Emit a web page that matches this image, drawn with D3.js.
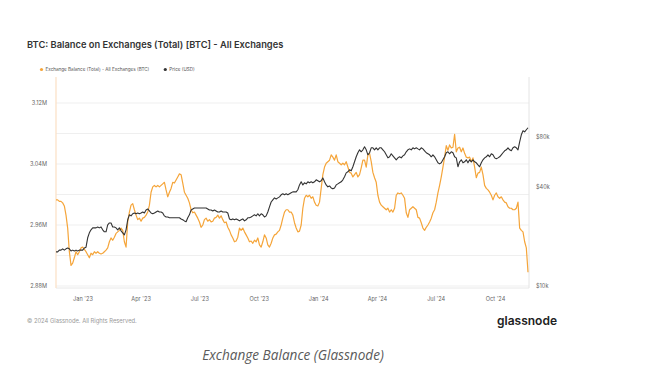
<!DOCTYPE html>
<html>
<head>
<meta charset="utf-8">
<script src="https://d3js.org/d3.v7.min.js"></script>
<style>
body { margin:0; background:#fff; }
text { font-family: Inter, "Noto Sans", sans-serif; }
</style>
</head>
<body>
<svg id="chart" width="660" height="385"></svg>
<script>

// data, ~2.6 day spacing from Nov 21 2022 to Nov 21 2024
const startDate = new Date(2022, 10, 21);
const endDate = new Date(2024, 10, 21);

// Exchange Balance (Total) - All Exchanges, millions of BTC
const balanceM = [2.993,
2.993,2.991,2.991,2.989,2.985,2.973,2.956,2.925,2.907,2.910,
2.917,2.925,2.921,2.925,2.930,2.931,2.928,2.925,2.921,2.917,
2.923,2.921,2.925,2.923,2.925,2.923,2.922,2.923,2.925,2.927,
2.930,2.938,2.943,2.940,2.944,2.949,2.951,2.953,2.956,2.953,
2.938,2.931,2.964,2.977,2.986,2.988,2.980,2.973,2.967,2.969,
2.965,2.969,2.970,2.973,2.977,2.986,3.003,3.010,3.012,3.010,
3.012,3.010,3.012,3.014,3.016,3.006,2.997,3.003,3.008,
3.016,3.015,3.019,3.023,3.027,3.026,3.015,3.003,2.999,2.995,
2.989,2.980,2.976,2.977,2.973,2.969,2.964,2.957,2.960,2.967,
2.969,2.965,2.967,2.964,2.965,2.969,2.970,2.973,2.969,2.972,
2.967,2.963,2.964,2.957,2.953,2.947,2.943,2.938,2.939,2.944,
2.956,2.953,2.956,2.951,2.947,2.943,2.938,2.939,2.936,2.940,
2.938,2.943,2.934,2.931,2.938,2.947,2.943,2.934,2.931,2.936,
2.943,2.947,2.948,2.951,2.953,2.960,2.969,2.977,2.980,2.980,
2.977,
2.977,2.973,2.963,2.956,2.951,2.952,2.960,2.982,2.995,2.999,
2.997,2.999,2.995,2.997,2.990,2.986,2.985,2.990,3.008,3.026,
3.036,3.041,3.043,3.045,3.052,3.049,3.045,3.052,3.043,3.041,
3.039,3.041,3.039,3.043,3.036,3.029,3.028,3.023,3.026,3.029,
3.023,3.026,3.035,3.045,3.045,3.036,3.052,3.054,3.043,3.029,
3.022,3.016,2.999,2.990,2.986,2.984,2.982,2.980,2.982,2.977,
2.980,2.977,2.982,2.999,3.002,3.001,3.002,2.999,2.995,2.976,
2.970,2.980,
2.982,2.984,2.982,2.980,2.970,2.969,2.963,2.956,2.953,2.957,
2.960,2.964,2.969,2.976,2.980,2.990,3.002,3.012,3.023,3.036,
3.049,3.064,3.058,3.065,3.061,3.062,3.079,3.056,3.061,3.062,
3.056,3.061,3.054,3.049,3.048,3.049,3.043,3.048,3.036,3.022,
3.028,3.029,3.036,3.026,3.012,3.008,3.006,3.003,2.999,2.993,
2.999,3.002,2.997,2.995,2.997,2.993,2.990,2.989,2.984,2.982,
2.982,2.980,2.980,2.982,2.990,2.956,2.953,2.951,2.938,2.930,
2.898];

// Price (USD), thousands
const priceK = [16.1,
16.1,16.5,16.5,16.8,16.5,16.8,17.0,16.8,16.3,16.5,
16.3,16.5,16.3,16.5,16.5,16.5,17.0,17.2,19.6,21.0,
21.9,22.5,22.5,22.5,22.8,22.5,22.8,21.9,21.3,21.3,
23.5,24.1,24.1,22.8,22.8,22.5,21.9,22.5,21.6,21.0,
20.4,21.9,25.2,27.0,26.6,27.4,27.7,27.4,27.7,27.4,
27.7,28.1,27.7,28.9,29.3,28.5,27.7,27.4,27.7,28.1,
28.5,28.1,28.1,27.7,26.6,26.2,26.2,25.9,25.9,
25.9,25.9,25.9,25.9,25.9,25.5,25.2,24.8,24.5,25.9,
27.0,28.9,29.3,29.7,29.7,29.7,29.7,29.7,29.7,29.7,
29.7,29.3,28.9,28.9,28.5,28.9,28.5,28.1,28.1,28.5,
28.1,28.1,28.1,27.7,25.5,25.2,25.5,25.2,25.5,25.2,
24.8,25.2,25.5,24.8,25.2,25.9,25.9,26.2,26.6,27.0,
26.6,27.4,26.6,27.4,27.0,26.2,26.6,28.1,30.2,32.3,
33.3,34.2,33.7,34.2,34.7,35.7,36.2,35.7,36.2,35.7,
36.2,
36.7,37.2,37.2,37.2,38.3,41.0,42.8,41.0,42.2,41.6,
42.8,42.2,42.8,42.2,42.8,44.0,43.4,42.8,43.4,45.2,
42.8,41.0,39.9,40.4,39.3,38.8,39.3,41.0,41.6,42.2,
42.8,44.0,45.9,48.5,49.2,50.6,49.9,52.8,56.6,60.7,
64.2,66.9,65.1,66.9,69.8,66.9,62.4,64.2,68.8,68.8,
66.9,68.8,66.9,68.8,68.8,66.9,65.1,62.4,59.8,60.7,
63.3,61.5,59.8,58.2,59.8,60.7,59.8,61.5,62.4,65.1,
66.9,67.8,
66.9,68.8,67.8,68.8,67.8,66.9,68.8,67.8,66.0,64.2,
63.3,62.4,60.7,62.4,60.7,58.2,55.8,55.0,55.8,58.2,
60.7,64.2,65.1,63.3,65.1,64.2,60.7,59.8,52.8,56.6,
58.2,55.8,56.6,58.2,55.8,58.2,56.6,58.2,56.6,55.8,
54.2,52.8,55.8,58.2,59.8,60.7,62.4,60.7,63.3,62.4,
59.8,59.0,59.8,60.7,62.4,64.2,66.0,66.9,68.8,66.9,
66.0,68.8,69.8,68.8,66.9,74.8,82.5,87.2,86.0,88.5,
91.0];

const monthTicks = ["2023-01-01","2023-04-01","2023-07-01","2023-10-01","2024-01-01","2024-04-01","2024-07-01","2024-10-01"];
const monthLabels = ["Jan '23","Apr '23","Jul '23","Oct '23","Jan '24","Apr '24","Jul '24","Oct '24"];
const balanceTicks = [2.88, 2.96, 3.04, 3.12];
const balanceGrid = [2.88, 2.92, 2.96, 3.00, 3.04, 3.08, 3.12];
const priceTicks = [10, 40, 80];

const seriesNames = ["Exchange Balance (Total) - All Exchanges (BTC)", "Price (USD)"];
const colors = ["#f5a53a", "#333333"];

const svg = d3.select("#chart");
const plotLeft = 56, plotRight = 529, plotTop = 77, plotBottom = 288;

const span = endDate - startDate;
const dates = balanceM.map((d, i) => new Date(+startDate + i * span / (balanceM.length - 1)));

const x = d3.scaleTime().domain([startDate, endDate]).range([plotLeft, 528]);
const yBal = d3.scaleLinear().domain([2.88, 3.12]).range([286, 103]);
const yPrice = d3.scaleLog().domain([10, 80]).range([286, 137]);

// title
svg.append("text")
  .attr("x", 27).attr("y", 47.5)
  .attr("font-size", 9.3).attr("font-weight", 600)
  .attr("fill", "#333")
  .text("BTC: Balance on Exchanges (Total) [BTC] - All Exchanges");

// legend
const legend = svg.append("g").attr("transform", "translate(41.5,69.5)");
let lx = 0;
seriesNames.forEach((name, i) => {
  const g = legend.append("g").attr("transform", "translate(" + lx + ",0)");
  g.append("circle").attr("r", 1.6).attr("fill", colors[i]);
  const t = g.append("text").attr("x", 4).attr("dy", "0.33em")
    .attr("font-size", 4.6).attr("fill", "#555").text(name);
  lx += t.node().getComputedTextLength() + 20;
});

// grid
svg.append("g").selectAll("line")
  .data(balanceGrid)
  .join("line")
  .attr("x1", plotLeft).attr("x2", plotRight)
  .attr("y1", d => yBal(d)).attr("y2", d => yBal(d))
  .attr("stroke", "#efefef").attr("stroke-width", 1);

// frame
svg.append("line").attr("x1", plotLeft).attr("x2", plotRight).attr("y1", plotBottom).attr("y2", plotBottom)
  .attr("stroke", "#e8e8e8");
svg.append("line").attr("x1", plotRight).attr("x2", plotRight).attr("y1", plotTop).attr("y2", plotBottom)
  .attr("stroke", "#e4e4e4");
svg.append("line").attr("x1", plotLeft).attr("x2", plotLeft).attr("y1", plotTop).attr("y2", plotBottom)
  .attr("stroke", "#fbe0c4").attr("stroke-width", 1.2);

// axes
const xAxis = d3.axisBottom(x)
  .tickValues(monthTicks.map(d => d3.timeParse("%Y-%m-%d")(d)))
  .tickFormat((d, i) => monthLabels[i])
  .tickSize(0).tickPadding(0);
svg.append("g").attr("transform", "translate(0,297)").call(xAxis)
  .call(g => g.select(".domain").remove())
  .selectAll("text").attr("font-size", 5.6).attr("fill", "#666").attr("font-family", "Inter");

const yAxisL = d3.axisLeft(yBal)
  .tickValues(balanceTicks)
  .tickFormat(d => d3.format(".2f")(d) + "M")
  .tickSize(0).tickPadding(0);
svg.append("g").attr("transform", "translate(47,0)").call(yAxisL)
  .call(g => g.select(".domain").remove())
  .selectAll("text").attr("font-size", 5.6).attr("fill", "#666").attr("font-family", "Inter");

const yAxisR = d3.axisRight(yPrice)
  .tickValues(priceTicks)
  .tickFormat(d => "$" + d + "k")
  .tickSize(0).tickPadding(0);
svg.append("g").attr("transform", "translate(536,0)").call(yAxisR)
  .call(g => g.select(".domain").remove())
  .selectAll("text").attr("font-size", 5.6).attr("fill", "#666").attr("font-family", "Inter");

// lines
svg.append("clipPath").attr("id", "plot")
  .append("rect").attr("x", plotLeft).attr("y", plotTop).attr("width", plotRight - plotLeft).attr("height", plotBottom - plotTop);

const balLine = d3.line().x((d, i) => x(dates[i])).y(d => yBal(d));
const priceLine = d3.line().x((d, i) => x(dates[i])).y(d => yPrice(d));

svg.append("path")
  .datum(balanceM)
  .attr("clip-path", "url(#plot)")
  .attr("d", balLine)
  .attr("fill", "none")
  .attr("stroke", colors[0])
  .attr("stroke-width", 1.2)
  .attr("stroke-linejoin", "round");

svg.append("path")
  .datum(priceK)
  .attr("clip-path", "url(#plot)")
  .attr("d", priceLine)
  .attr("fill", "none")
  .attr("stroke", colors[1])
  .attr("stroke-width", 1.1)
  .attr("stroke-linejoin", "round");

// footer
svg.append("text")
  .attr("x", 27).attr("y", 323)
  .attr("font-size", 5.8).attr("fill", "#999")
  .text("© 2024 Glassnode. All Rights Reserved.");

svg.append("text")
  .attr("x", 557).attr("y", 325)
  .attr("text-anchor", "end")
  .attr("font-size", 12).attr("font-weight", 600)
  .attr("fill", "#222")
  .text("glassnode");

svg.append("text")
  .attr("x", 293).attr("y", 360)
  .attr("text-anchor", "middle")
  .attr("font-size", 13.6).attr("font-style", "italic")
  .attr("fill", "#5a5a5a")
  .style("font-family", "'Open Sans', sans-serif")
  .text("Exchange Balance (Glassnode)");

</script>
</body>
</html>
